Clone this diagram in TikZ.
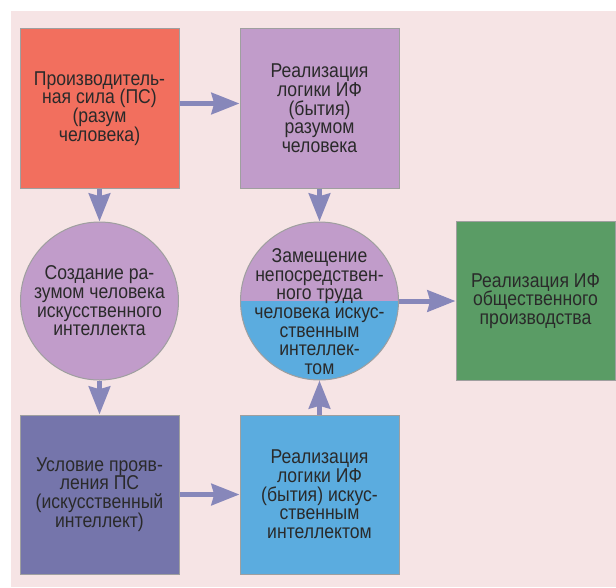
\documentclass[tikz,border=0pt]{standalone}
\usepackage{fontspec}
\setmainfont{Liberation Sans}[FakeStretch=0.88]
\usetikzlibrary{arrows.meta}
\definecolor{bgpink}{HTML}{F6E4E5}
\definecolor{redbox}{HTML}{F26F5E}
\definecolor{lilac}{HTML}{C19CCA}
\definecolor{slate}{HTML}{7575AB}
\definecolor{skyblue}{HTML}{5BACDF}
\definecolor{greenbox}{HTML}{5A9C65}
\definecolor{arr}{HTML}{8787BA}
\definecolor{txt}{HTML}{2A2A2A}

\begin{document}
\begin{tikzpicture}[x=0.75pt,y=0.75pt,
  lbl/.style={align=center, text=txt, font=\fontsize{15pt}{14pt}\selectfont},
  blk/.style={lbl, draw=gray!75, line width=0.75pt, minimum width=119.25pt, minimum height=119.25pt},
  disc/.style={lbl, draw=gray!75, line width=0.75pt, circle, minimum size=118.5pt, inner sep=0pt},
  flow/.style={-{Stealth[length=21pt,width=16pt,inset=2pt]}, line width=3.75pt, draw=arr}]
\useasboundingbox (0,0) rectangle (616,587);
\fill[bgpink] (11,0) rectangle (616,576);
\node[blk, fill=redbox] (ps) at (99.5,478.5) {Производитель-\\ная сила (ПС)\\(разум\\человека)};
\node[blk, fill=lilac] (lr) at (319.5,478.5) {Реализация\\логики ИФ\\(бытия)\\разумом\\человека};
\node[disc, fill=lilac] (si) at (99.5,286) {Создание ра-\\зумом человека\\искусственного\\интеллекта};
\node[disc, fill=lilac, path picture={\fill[skyblue] (path picture bounding box.west) rectangle (path picture bounding box.south east);}] (zt) at (319.5,286) {};
\node[lbl] (ztt) at (319.5,275.5) {Замещение\\непосредствен-\\ного труда\\человека искус-\\ственным\\интеллек-\\том};
\node[blk, fill=greenbox] (op) at (535.5,286) {Реализация ИФ\\общественного\\производства};
\node[blk, fill=slate] (up) at (99.5,92.5) {Условие прояв-\\ления ПС\\(искусственный\\интеллект)};
\node[blk, fill=skyblue] (li) at (319.5,92.5) {Реализация\\логики ИФ\\(бытия) искус-\\ственным\\интеллектом};
\draw[flow] ([yshift=3.75pt]ps.east) -- ([yshift=3.75pt]lr.west);
\draw[flow] (ps) -- (si);
\draw[flow] (si) -- (up);
\draw[flow] (up) -- (li);
\draw[flow] (lr) -- (zt);
\draw[flow] (li) -- (zt);
\draw[flow] (zt) -- (op);
\end{tikzpicture}
\end{document}
